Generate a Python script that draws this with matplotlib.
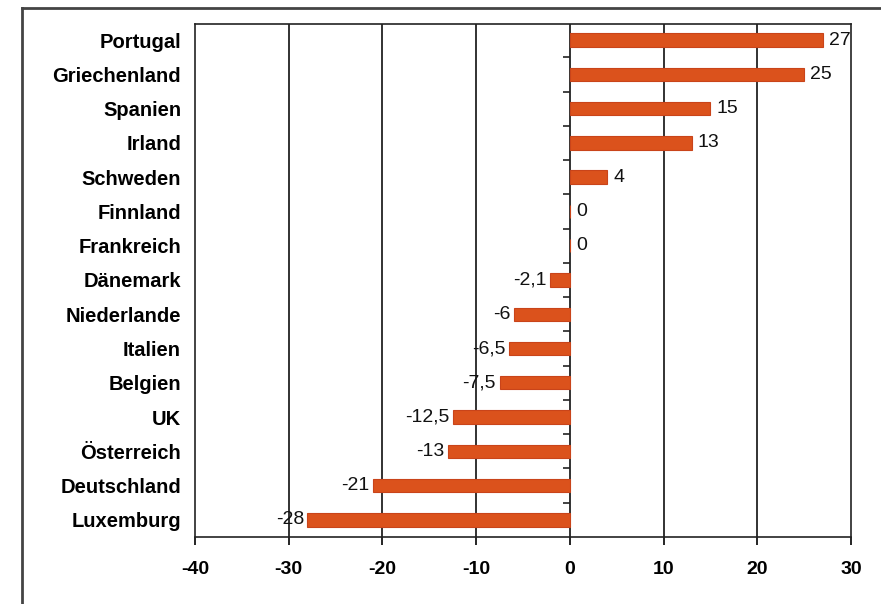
import matplotlib.pyplot as plt
import matplotlib.lines as mlines
import numpy as np

countries = ["Portugal", "Griechenland", "Spanien", "Irland", "Schweden",
             "Finnland", "Frankreich", "Dänemark", "Niederlande", "Italien",
             "Belgien", "UK", "Österreich", "Deutschland", "Luxemburg"]
values = [27, 25, 15, 13, 4, 0, 0, -2.1, -6, -6.5, -7.5, -12.5, -13, -21, -28]
xticks = [-40, -30, -20, -10, 0, 10, 20, 30]

plt.rcParams['font.family'] = ['Liberation Sans', 'DejaVu Sans']

fig = plt.figure(figsize=(8.81, 6.04), dpi=100)
ax = fig.add_axes([195/881, 1 - 537/604, (851 - 195)/881, (537 - 24)/604])

n = len(countries)
ypos = np.arange(n)[::-1]

for x in xticks[1:-1]:
    ax.axvline(x, color='#222222', lw=1.3, zorder=1)

ax.barh(ypos, values, height=0.39, color='#DB521C', edgecolor='#C9441A',
        lw=0.8, zorder=2)

# ticks between categories on the zero axis
ax.plot(np.zeros(n - 1), ypos[:-1] - 0.5, linestyle='none', marker=0,
        markersize=5, color='#222222', mew=1.2, zorder=3)

for y, v in zip(ypos, values):
    txt = ("%g" % v).replace(".", ",")
    if v >= 0:
        ax.annotate(txt, (v, y), xytext=(4.5, 0), textcoords='offset points',
                    ha='left', va='center', fontsize=14, color='#111111')
    else:
        ax.annotate(txt, (v, y), xytext=(-2.5, 0), textcoords='offset points',
                    ha='right', va='center', fontsize=14, color='#111111')

ax.set_xlim(-40, 30)
ax.set_ylim(-0.5, n - 0.53)
ax.set_xticks(xticks)
ax.set_xticklabels([str(t) for t in xticks], fontweight='bold', fontsize=14)
ax.set_yticks(ypos)
ax.set_yticklabels(countries, fontweight='bold', fontsize=14.5)
ax.tick_params(axis='y', length=0, pad=10)
ax.tick_params(axis='x', length=6, width=1.2, direction='out', pad=11)
for s in ax.spines.values():
    s.set_linewidth(1.2)
    s.set_color('#222222')

# outer frame
fig.add_artist(mlines.Line2D([22/881, 22/881], [0, 1 - 8/604],
                             transform=fig.transFigure, color='#444444', lw=2))
fig.add_artist(mlines.Line2D([22/881, 1], [1 - 8/604, 1 - 8/604],
                             transform=fig.transFigure, color='#444444', lw=2))

fig.savefig("out.png", dpi=100)
